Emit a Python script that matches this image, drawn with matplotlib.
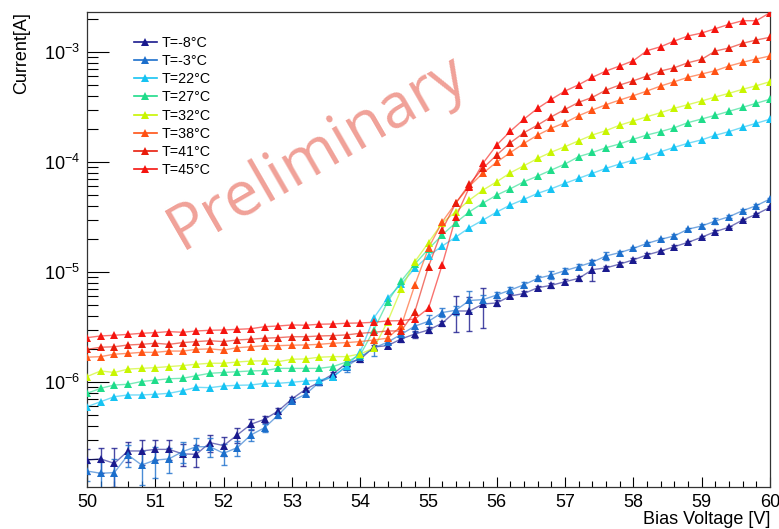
import numpy as np
import matplotlib
matplotlib.use('Agg')
import matplotlib.pyplot as plt
from matplotlib.ticker import MultipleLocator, LogLocator, FuncFormatter, NullFormatter
from matplotlib.lines import Line2D

plt.rcParams['font.family'] = ['Liberation Sans', 'DejaVu Sans']
plt.rcParams['mathtext.fontset'] = 'custom'
plt.rcParams['mathtext.rm'] = 'Liberation Sans'
plt.rcParams['mathtext.it'] = 'Liberation Sans:italic'
plt.rcParams['mathtext.bf'] = 'Liberation Sans:bold'

# Bias voltage [V]
voltage = [50.0, 50.2, 50.4, 50.6, 50.8, 51.0, 51.2, 51.4, 51.6, 51.8,
           52.0, 52.2, 52.4, 52.6, 52.8, 53.0, 53.2, 53.4, 53.6, 53.8,
           54.0, 54.2, 54.4, 54.6, 54.8, 55.0, 55.2, 55.4, 55.6, 55.8,
           56.0, 56.2, 56.4, 56.6, 56.8, 57.0, 57.2, 57.4, 57.6, 57.8,
           58.0, 58.2, 58.4, 58.6, 58.8, 59.0, 59.2, 59.4, 59.6, 59.8, 60.0]

labels = ['T=-8\u00b0C', 'T=-3\u00b0C', 'T=22\u00b0C', 'T=27\u00b0C',
          'T=32\u00b0C', 'T=38\u00b0C', 'T=41\u00b0C', 'T=45\u00b0C']

# Currents in microampere
cur_m8 = [0.195, 0.200, 0.182, 0.236, 0.236, 0.244, 0.244, 0.222, 0.220, 0.281,
          0.264, 0.330, 0.413, 0.458, 0.545, 0.701, 0.858, 0.994, 1.18, 1.48,
          1.61, 2.08, 2.14, 2.46, 2.73, 2.97, 3.42, 4.42, 4.42, 5.12,
          5.23, 6.05, 6.38, 7.20, 7.57, 8.16, 8.76, 10.5, 10.9, 11.8,
          12.9, 14.3, 15.5, 17.0, 18.6, 20.7, 23.3, 25.5, 29.7, 33.5, 38.7]
cur_m3 = [0.155, 0.148, 0.150, 0.217, 0.176, 0.195, 0.200, 0.233, 0.258, 0.258,
          0.225, 0.253, 0.330, 0.384, 0.501, 0.672, 0.773, 0.994, 1.12, 1.38,
          1.68, 2.04, 2.30, 2.71, 3.22, 3.56, 4.28, 4.49, 5.51, 5.61,
          6.18, 6.86, 7.66, 8.76, 9.39, 10.3, 11.2, 12.3, 14.0, 15.0,
          16.4, 18.2, 19.8, 21.3, 24.5, 26.2, 29.1, 31.8, 36.1, 40.1, 46.1]
cur_22 = [0.596, 0.662, 0.735, 0.762, 0.762, 0.773, 0.789, 0.834, 0.895, 0.888,
          0.920, 0.933, 0.939, 0.973, 0.973, 0.994, 1.02, 1.04, 1.11, 1.40,
          1.87, 3.82, 5.77, 7.78, 10.8, 14.0, 17.2, 20.8, 25.3, 29.7,
          35.1, 40.7, 45.8, 51.9, 57.2, 64.0, 71.1, 78.9, 87.6, 95.9,
          104, 113, 124, 136, 148, 159, 175, 189, 207, 225, 245]
cur_27 = [0.789, 0.876, 0.939, 0.953, 1.01, 1.04, 1.07, 1.08, 1.14, 1.20,
          1.22, 1.24, 1.26, 1.27, 1.33, 1.33, 1.33, 1.33, 1.38, 1.52,
          1.76, 2.97, 5.34, 8.28, 11.8, 16.2, 21.7, 28.1, 35.3, 42.4,
          50.1, 57.2, 66.2, 74.6, 84.6, 95.9, 112, 122, 135, 146,
          161, 176, 189, 205, 228, 246, 266, 289, 314, 342, 372]
cur_32 = [1.12, 1.26, 1.22, 1.31, 1.33, 1.35, 1.38, 1.41, 1.45, 1.48,
          1.48, 1.52, 1.55, 1.56, 1.53, 1.61, 1.62, 1.68, 1.70, 1.70,
          1.80, 2.03, 3.53, 6.96, 12.4, 18.5, 27.9, 35.3, 45.1, 55.7,
          66.2, 79.9, 92.6, 108, 123, 138, 156, 176, 193, 216,
          236, 258, 281, 308, 332, 359, 390, 421, 458, 494, 537]
cur_38 = [1.68, 1.70, 1.79, 1.82, 1.86, 1.86, 1.91, 1.91, 1.98, 2.00,
          1.95, 2.05, 2.09, 2.14, 2.14, 2.16, 2.17, 2.20, 2.25, 2.28,
          2.33, 2.41, 2.50, 3.23, 7.62, 16.5, 28.5, 42.4, 60.5, 79.4,
          100, 122, 148, 176, 203, 228, 264, 297, 332, 366,
          401, 442, 491, 537, 589, 631, 676, 746, 806, 864, 920]
cur_41 = [1.98, 2.07, 2.09, 2.17, 2.20, 2.25, 2.20, 2.28, 2.33, 2.37,
          2.33, 2.41, 2.45, 2.50, 2.53, 2.58, 2.58, 2.62, 2.64, 2.68,
          2.77, 2.83, 2.91, 2.91, 4.36, 11.2, 24.1, 42.4, 63.1, 88.2,
          116, 150, 185, 217, 258, 301, 349, 387, 451, 501,
          548, 605, 672, 720, 799, 858, 1021, 1087, 1200, 1286, 1360]
cur_45 = [2.53, 2.62, 2.66, 2.71, 2.77, 2.81, 2.87, 2.83, 2.91, 2.95,
          2.97, 3.01, 3.05, 3.18, 3.23, 3.30, 3.28, 3.35, 3.37, 3.42,
          3.44, 3.49, 3.59, 3.61, 3.74, 4.68, 11.6, 31.6, 59.3, 97.9,
          143, 191, 246, 308, 372, 442, 504, 589, 672, 746,
          834, 1028, 1117, 1259, 1398, 1488, 1629, 1785, 1925, 1925, 2277]

# Current uncertainties in microampere (only the cold runs show visible bars)
err_m8 = [0.05, 0.05, 0.07, 0.05, 0.06, 0.05, 0.05, 0.05, 0.05, 0.05,
          0.05, 0.05, 0.05, 0.03, 0.03, 0.03, 0.03, 0.05, 0.05, 0.1,
          0.1, 0.1, 0.1, 0.15, 0.2, 0.2, 0.2, 1.6, 1.5, 2.0,
          0.3, 0.3, 0.3, 0.3, 0.4, 0.4, 0.4, 2.3, 0.4, 0.4,
          0.4, 0.5, 0.5, 0.5, 0.5, 0.5, 0.6, 0.6, 0.7, 0.7, 0.8]
err_m3 = [0.03, 0.04, 0.05, 0.05, 0.06, 0.06, 0.05, 0.05, 0.05, 0.05,
          0.05, 0.04, 0.04, 0.03, 0.03, 0.03, 0.03, 0.05, 0.05, 0.15,
          0.1, 0.3, 0.1, 0.2, 0.4, 0.5, 0.4, 0.4, 1.2, 0.6,
          0.4, 0.4, 0.4, 0.5, 0.8, 0.5, 0.5, 0.6, 1.2, 0.6,
          0.6, 0.7, 0.7, 0.8, 0.8, 0.9, 2.0, 1.0, 1.0, 1.1, 1.2]

series = [cur_m8, cur_m3, cur_22, cur_27, cur_32, cur_38, cur_41, cur_45]
errors = [err_m8, err_m3, None, None, None, None, None, None]
colors = ['#1a1a8e', '#1c6fcc', '#16c3f2', '#1fdc8a', '#c8f500',
          '#ff5214', '#e81c0c', '#f5140f']

fig = plt.figure(figsize=(7.79, 5.29), dpi=100)
ax = fig.add_axes([87 / 779, 1 - 487 / 529, 683 / 779, 475 / 529])

V = np.array(voltage)
handles = []
for vals, err, col, lab in zip(series, errors, colors, labels):
    y = np.array(vals) * 1e-6
    if err is not None:
        ax.errorbar(V, y, yerr=np.array(err) * 1e-6, fmt='none', ecolor=col,
                    elinewidth=1.0, capsize=2.0, capthick=1.0, alpha=0.8, zorder=2)
    ax.plot(V, y, '-', color=col, lw=1.0, alpha=0.6, zorder=3)
    ax.plot(V, y, '^', color=col, ms=5.5, mew=0, zorder=4)
    handles.append(Line2D([], [], color=col, lw=1.2, marker='^', ms=5.5, mew=0,
                          label=lab))

ax.set_yscale('log')
ax.set_xlim(50, 60)
ax.set_ylim(1.11e-7, 2.31e-3)

ax.xaxis.set_major_locator(MultipleLocator(1))
ax.xaxis.set_minor_locator(MultipleLocator(0.2))
ax.yaxis.set_major_locator(LogLocator(base=10))
ax.yaxis.set_minor_locator(LogLocator(base=10, subs=np.arange(2, 10)))
ax.yaxis.set_minor_formatter(NullFormatter())
ax.yaxis.set_major_formatter(FuncFormatter(
    lambda v, p: r'$\mathregular{10^{%d}}$' % int(round(np.log10(v)))))

ax.tick_params(axis='x', which='major', direction='in', length=7, width=0.8,
               labelsize=13, pad=5, top=False)
ax.tick_params(axis='x', which='minor', direction='in', length=4, width=0.8, top=False)
ax.tick_params(axis='y', which='major', direction='in', length=16, width=0.8,
               labelsize=13, pad=5, right=False)
ax.tick_params(axis='y', which='minor', direction='in', length=8, width=0.8, right=False)
for s in ax.spines.values():
    s.set_linewidth(0.9)
    s.set_color('#333333')

fig.text(770 / 779, 1 - 519 / 529, 'Bias Voltage [V]', ha='right', va='center',
         fontsize=13)
fig.text(22 / 779, 1 - 12 / 529, 'Current[A]', ha='center', va='top',
         rotation=90, fontsize=13)

ax.legend(handles=handles, loc='upper left',
          bbox_to_anchor=(134 / 779, 1 - 36 / 529), bbox_transform=fig.transFigure,
          frameon=False, fontsize=10.3, handlelength=1.6, handletextpad=0.35,
          labelspacing=0.29, borderpad=0, borderaxespad=0)

fig.text(318 / 779, 1 - 152 / 529, 'Preliminary', rotation=30, ha='center',
         va='center', rotation_mode='anchor', fontsize=45, color='#f0a198',
         family=['Open Sans', 'DejaVu Sans'], zorder=10)

fig.savefig('out.png', dpi=100)
